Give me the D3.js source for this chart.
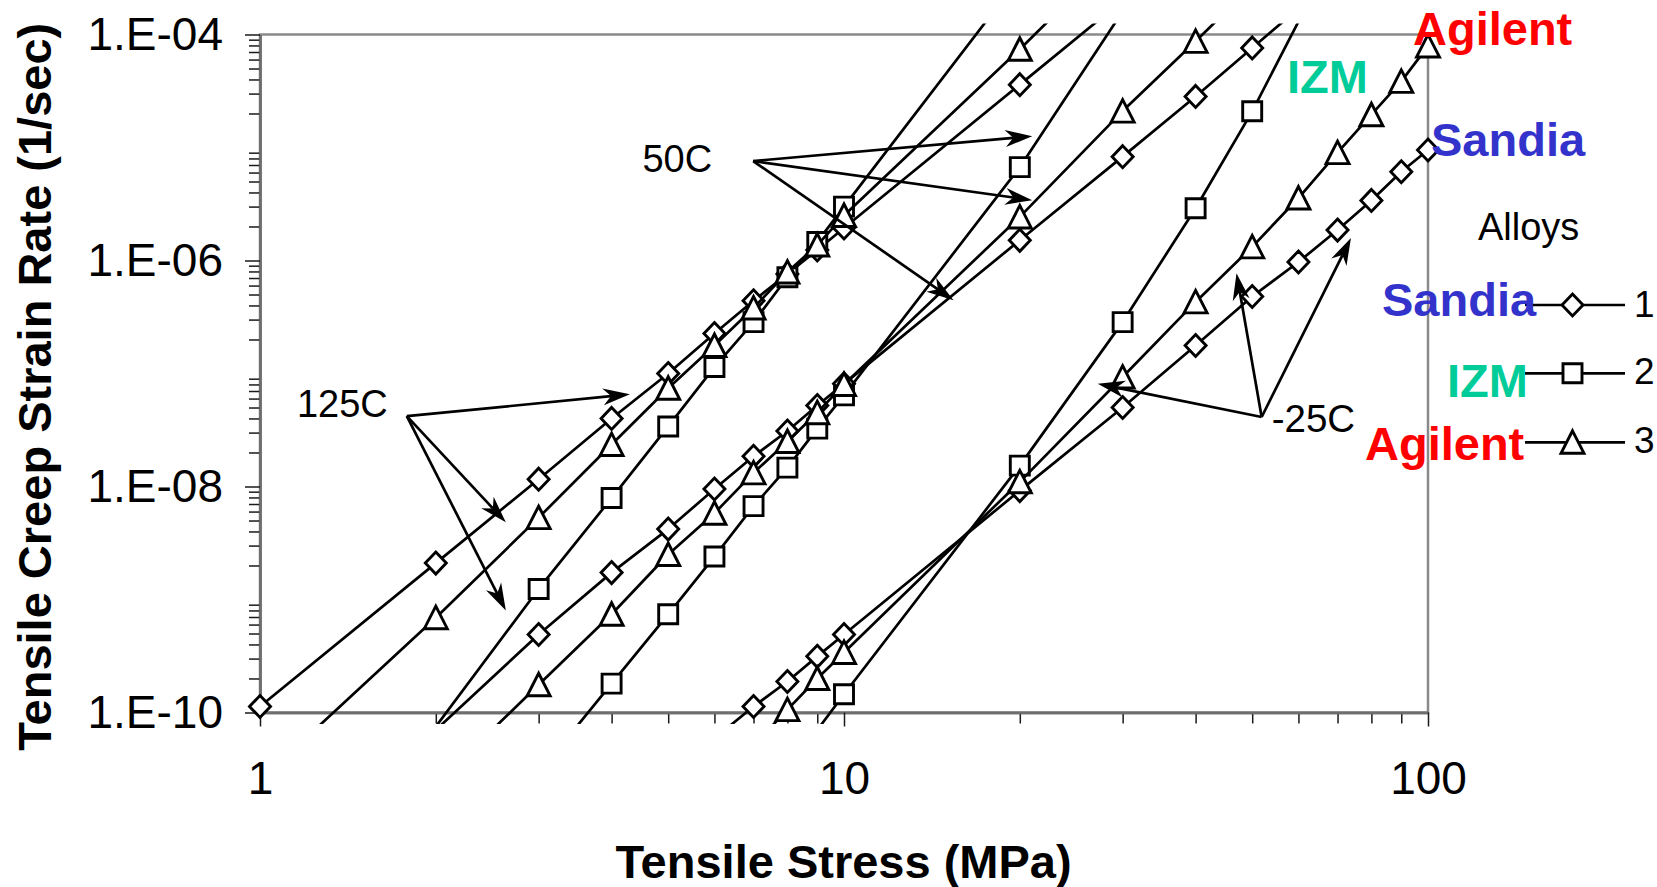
<!DOCTYPE html>
<html><head><meta charset="utf-8">
<script src="https://cdn.jsdelivr.net/npm/d3@7"></script>
<style>body{margin:0;background:#fff}svg{display:block}text{font-family:"Liberation Sans",Arial,sans-serif}</style>
</head><body>
<svg id="c" width="1657" height="887"></svg>
<script>
// ---------- tick labels ----------
const stressTicks = [1, 10, 100];
const stressTickLabels = ["1", "10", "100"];
const rateTicks = [1e-10, 1e-8, 1e-6, 1e-4];
const rateTickLabels = ["1.E-10", "1.E-08", "1.E-06", "1.E-04"];

// ---------- series (stress MPa, creep rate 1/s) ----------
// 125C
const stress125_1 = [1, 2, 3, 4, 5, 6, 7, 8, 9, 10, 20, 30];
const rate125_1   = [1.13e-10, 2.1e-9, 1.16e-8, 4.0e-8, 1.0e-7, 2.26e-7, 4.4e-7, 7.6e-7, 1.24e-6, 1.94e-6, 3.6e-5, 2.0e-4];
const stress125_2 = [2, 3, 4, 5, 6, 7, 8, 9, 10, 20];
const rate125_2   = [7.5e-11, 1.24e-9, 7.9e-9, 3.4e-8, 1.14e-7, 2.85e-7, 7.1e-7, 1.46e-6, 3.0e-6, 3.2e-4];
const stress125_3 = [1, 2, 3, 4, 5, 6, 7, 8, 9, 10, 20, 30];
const rate125_3   = [2.5e-11, 6.9e-10, 5.3e-9, 2.35e-8, 7.4e-8, 1.77e-7, 3.8e-7, 7.9e-7, 1.37e-6, 2.5e-6, 7.4e-5, 5.9e-4];
// 50C
const stress50_1 = [2, 3, 4, 5, 6, 7, 8, 9, 10, 20, 30, 40, 50, 60];
const rate50_1   = [7e-11, 4.9e-10, 1.73e-9, 4.2e-9, 9.5e-9, 1.85e-8, 3.1e-8, 5.2e-8, 8.1e-8, 1.51e-6, 8.3e-6, 2.83e-5, 7.6e-5, 1.7e-4];
const stress50_2 = [3, 4, 5, 6, 7, 8, 9, 10, 20, 30];
const rate50_2   = [2.9e-11, 1.8e-10, 7.4e-10, 2.4e-9, 6.7e-9, 1.47e-8, 3.25e-8, 6.4e-8, 6.7e-6, 1.6e-4];
const stress50_3 = [2, 3, 4, 5, 6, 7, 8, 9, 10, 20, 30, 40, 50];
const rate50_3   = [2.3e-11, 1.76e-10, 7.4e-10, 2.5e-9, 5.8e-9, 1.32e-8, 2.5e-8, 4.5e-8, 8.0e-8, 2.43e-6, 2.1e-5, 8.7e-5, 2.7e-4];
// -25C
const stressM25_1 = [6, 7, 8, 9, 10, 20, 30, 40, 50, 60, 70, 80, 90, 100];
const rateM25_1   = [5.9e-11, 1.13e-10, 1.88e-10, 3.14e-10, 4.9e-10, 9.2e-9, 5.0e-8, 1.77e-7, 4.8e-7, 9.7e-7, 1.86e-6, 3.4e-6, 6.1e-6, 9.5e-6];
const stressM25_2 = [9, 10, 20, 30, 40, 50, 60];
const rateM25_2   = [7e-11, 1.45e-10, 1.53e-8, 2.85e-7, 2.9e-6, 2.09e-5, 1.3e-4];
const stressM25_3 = [7, 8, 9, 10, 20, 30, 40, 50, 60, 70, 80, 90, 100];
const rateM25_3   = [5.1e-11, 1.06e-10, 2.0e-10, 3.4e-10, 1.1e-8, 9.3e-8, 4.3e-7, 1.32e-6, 3.57e-6, 9.0e-6, 1.95e-5, 3.85e-5, 7.9e-5];

// ---------- legend ----------
const alloyIds = ["1", "2", "3"];
const alloyMarkers = ["diamond", "square", "triangle"];
const alloyNames = ["Sandia", "IZM", "Agilent"];
const alloyColors = ["#3333cc", "#00cc99", "#ff0000"];
const legendTitle = "Alloys";

// ---------- temperature annotations (label, origin [stress, rate], arrow tips) ----------
const annLabels = ["125C", "50C", "-25C"];
const annOrigins = [[1.784, 4.19e-8], [6.99, 7.59e-6], [51.9, 4.12e-8]];
const annTips = [
  [[4.30, 6.55e-8], [2.636, 4.82e-9], [2.636, 8.0e-10]],
  [[21.0, 1.26e-5], [21.0, 3.42e-6], [15.4, 4.46e-7]],
  [[27.2, 8.1e-8], [47.0, 7.73e-7], [73.8, 1.58e-6]]
];

const series = [
  [stress125_1, rate125_1, 0], [stress125_2, rate125_2, 1], [stress125_3, rate125_3, 2],
  [stress50_1, rate50_1, 0], [stress50_2, rate50_2, 1], [stress50_3, rate50_3, 2],
  [stressM25_1, rateM25_1, 0], [stressM25_2, rateM25_2, 1], [stressM25_3, rateM25_3, 2]
];

// ---------- layout ----------
const L = 260, R = 1428, T = 34.5, B = 712.5;
const x = d3.scaleLog().domain([1, 100]).range([L, R]);
const y = d3.scaleLog().domain([1e-10, 1e-4]).range([B, T]);
const svg = d3.select("#c");

svg.append("defs").append("clipPath").attr("id", "clip")
  .append("rect").attr("x", L - 10).attr("y", 23.5).attr("width", R - L + 20).attr("height", 724 - 23.5);

// frame
svg.append("rect").attr("x", L).attr("y", T).attr("width", R - L).attr("height", B - T)
  .attr("fill", "none").attr("stroke", "#8a8a8a").attr("stroke-width", 2.5);

// minor tick values
const minorX = [], minorY = [];
for (let d = 0; d < 2; d++) for (let k = 2; k <= 9; k++) minorX.push(k * Math.pow(10, d));
for (let e = -10; e < -4; e++) for (let k = 2; k <= 9; k++) minorY.push(k * Math.pow(10, e));

function styleAxis(g) {
  g.select(".domain").attr("stroke", "#6e6e6e").attr("stroke-width", 2.5);
  g.selectAll(".tick line").attr("stroke", "#1a1a1a").attr("stroke-width", 1.5);
  g.selectAll(".tick text").attr("fill", "#000").style("font-size", "46px")
    .style("font-family", '"Liberation Sans",Arial,sans-serif');
}
svg.append("g").attr("transform", `translate(0,${B})`)
  .call(d3.axisBottom(x).tickValues(minorX).tickSize(11).tickSizeOuter(0).tickFormat(""))
  .call(styleAxis);
svg.append("g").attr("transform", `translate(0,${B})`)
  .call(d3.axisBottom(x).tickValues(stressTicks).tickSize(14).tickSizeOuter(0).tickPadding(35)
    .tickFormat((d, i) => stressTickLabels[i]))
  .call(styleAxis);
svg.append("g").attr("transform", `translate(${L},0)`)
  .call(d3.axisLeft(y).tickValues(minorY).tickSize(11).tickSizeOuter(0).tickFormat(""))
  .call(styleAxis);
svg.append("g").attr("transform", `translate(${L},0)`)
  .call(d3.axisLeft(y).tickValues(rateTicks).tickSize(15).tickSizeOuter(0).tickPadding(22)
    .tickFormat((d, i) => rateTickLabels[i]))
  .call(styleAxis);

// axis titles
svg.append("text").attr("x", 843.5).attr("y", 878.3).attr("text-anchor", "middle")
  .style("font-size", "47px").style("font-weight", "bold").text("Tensile Stress (MPa)");
svg.append("text").attr("transform", "translate(50.5,386.7) rotate(-90)").attr("text-anchor", "middle")
  .style("font-size", "47px").style("font-weight", "bold").text("Tensile Creep Strain Rate (1/sec)");

// marker shapes
function markerPath(type, cx, cy) {
  if (type === "diamond") return `M${cx},${cy - 11}L${cx + 10.5},${cy}L${cx},${cy + 11}L${cx - 10.5},${cy}Z`;
  if (type === "square") return `M${cx - 9.5},${cy - 9.5}h19v19h-19Z`;
  return `M${cx},${cy - 11.5}L${cx + 11.5},${cy + 11}L${cx - 11.5},${cy + 11}Z`;
}

const line = d3.line().x(d => x(d[0])).y(d => y(d[1]));
const plot = svg.append("g");
series.forEach(([xs, ys, a]) => {
  const pts = xs.map((v, i) => [v, ys[i]]);
  plot.append("path").attr("d", line(pts)).attr("clip-path", "url(#clip)")
    .attr("fill", "none").attr("stroke", "#000").attr("stroke-width", 2.7).attr("stroke-linejoin", "round");
  plot.selectAll(null).data(pts.filter(p => p[1] >= 0.98e-10 && p[1] <= 1.02e-4)).enter()
    .append("path").attr("d", p => markerPath(alloyMarkers[a], x(p[0]), y(p[1])))
    .attr("fill", "#fff").attr("stroke", "#000").attr("stroke-width", 2.9);
});

// annotations with arrows
const ann = svg.append("g");
annLabels.forEach((lab, i) => {
  const ox = x(annOrigins[i][0]), oy = y(annOrigins[i][1]);
  annTips[i].forEach(t => {
    const tx = x(t[0]), ty = y(t[1]);
    const ang = Math.atan2(ty - oy, tx - ox);
    const ca = Math.cos(ang), sa = Math.sin(ang);
    const len = 27, hw = 8.5, notch = 19;
    const bx = tx - len * ca, by = ty - len * sa;
    const nx = tx - notch * ca, ny = ty - notch * sa;
    ann.append("line").attr("x1", ox).attr("y1", oy).attr("x2", nx).attr("y2", ny)
      .attr("stroke", "#000").attr("stroke-width", 2.7);
    ann.append("path").attr("d",
      `M${tx},${ty}L${bx - hw * sa},${by + hw * ca}L${nx},${ny}L${bx + hw * sa},${by - hw * ca}Z`)
      .attr("fill", "#000");
  });
});
ann.append("text").attr("x", x(annOrigins[0][0]) - 19).attr("y", y(annOrigins[0][1]) + 1)
  .attr("text-anchor", "end").style("font-size", "38px").text(annLabels[0]);
ann.append("text").attr("x", x(annOrigins[1][0]) - 41).attr("y", y(annOrigins[1][1]) + 11)
  .attr("text-anchor", "end").style("font-size", "38px").text(annLabels[1]);
ann.append("text").attr("x", x(annOrigins[2][0]) + 10).attr("y", y(annOrigins[2][1]) + 14.5)
  .attr("text-anchor", "start").style("font-size", "38.5px").text(annLabels[2]);

// legend
const leg = svg.append("g");
leg.append("text").attr("x", 1478).attr("y", 239.5).style("font-size", "38px").text(legendTitle);
const rowY = [305, 373.3, 442.3];
const rowLabelY = [316.5, 384, 452.5];
alloyIds.forEach((id, i) => {
  leg.append("line").attr("x1", 1525).attr("x2", 1625).attr("y1", rowY[i]).attr("y2", rowY[i])
    .attr("stroke", "#000").attr("stroke-width", 2.7);
  leg.append("path").attr("d", markerPath(alloyMarkers[i], 1572.5, rowY[i]))
    .attr("fill", "#fff").attr("stroke", "#000").attr("stroke-width", 2.9);
  leg.append("text").attr("x", 1634).attr("y", rowLabelY[i]).style("font-size", "37px").text(id);
});
// coloured alloy names
const nameBoxes = [
  [0, 1431, 156], [1, 1287, 92.7], [2, 1413, 45],
  [0, 1382, 316], [1, 1447, 397.3], [2, 1365, 460]
];
nameBoxes.forEach(([a, tx, ty]) => {
  leg.append("text").attr("x", tx).attr("y", ty).attr("fill", alloyColors[a])
    .style("font-size", "47px").style("font-weight", "bold").text(alloyNames[a]);
});
</script>
</body></html>
